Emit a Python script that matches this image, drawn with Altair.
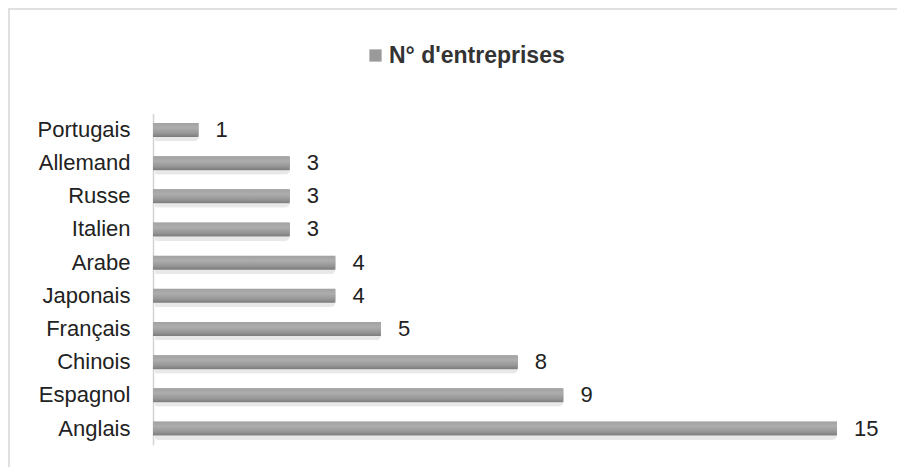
import altair as alt
import pandas as pd

languages = ["Portugais", "Allemand", "Russe", "Italien", "Arabe",
             "Japonais", "Français", "Chinois", "Espagnol", "Anglais"]
companies = [1, 3, 3, 3, 4, 4, 5, 8, 9, 15]
series_name = "N° d'entreprises"

df = pd.DataFrame({"langue": languages, "n": companies, "serie": series_name})

W, H = 889, 459
FONT = "Liberation Sans"
TXT = "#222222"

x_enc = alt.X("n:Q", scale=alt.Scale(domain=[0, 15], range=[145, 829]), axis=None)
y_enc = alt.Y(
    "langue:N",
    sort=languages,
    scale=alt.Scale(range=[105.4, 437.1], paddingInner=0, paddingOuter=0),
    axis=alt.Axis(
        title=None, offset=-145, ticks=False, labelPadding=23,
        domainColor="#d4d4d4", domainWidth=1.5,
        labelFont=FONT, labelFontSize=22, labelColor=TXT,
    ),
)

base = alt.Chart(df)

shadow = base.mark_bar(color="#000000", opacity=0.09, size=17, yOffset=3, xOffset=2,
                       cornerRadius=5).encode(x=x_enc, y=y_enc)

legend_bars = base.mark_bar(size=14).encode(
    x=x_enc, y=y_enc,
    color=alt.Color(
        "serie:N",
        scale=alt.Scale(range=["#9a9a9a"]),
        legend=alt.Legend(
            title=None, orient="none", legendX=356, legendY=36, padding=0,
            symbolType="square", symbolSize=150, symbolStrokeWidth=0,
            labelFont=FONT, labelFontSize=23, labelFontWeight="bold",
            labelColor="#333333", labelOffset=2, labelLimit=400,
        ),
    ),
)

grad = alt.Gradient(
    gradient="linear",
    stops=[
        alt.GradientStop(color="#a2a2a2", offset=0),
        alt.GradientStop(color="#adadad", offset=0.35),
        alt.GradientStop(color="#959595", offset=0.75),
        alt.GradientStop(color="#7a7a7a", offset=1),
    ],
    x1=0, x2=0, y1=0, y2=1,
)

bars = base.mark_bar(size=14, color=grad, cornerRadiusEnd=2).encode(x=x_enc, y=y_enc)

labels = base.mark_text(align="left", baseline="middle", dx=17, fontSize=22,
                        font=FONT, color=TXT).encode(x=x_enc, y=y_enc, text="n:Q")

frame_top = alt.Chart(df).mark_rule(color="#e0e0e0", strokeWidth=2).encode(
    x=alt.value(0), x2=alt.value(W), y=alt.value(1)
)
frame_left = alt.Chart(df).mark_rule(color="#e0e0e0", strokeWidth=2).encode(
    x=alt.value(1), y=alt.value(0), y2=alt.value(H)
)

chart = (
    alt.layer(frame_top, frame_left, shadow, legend_bars, bars, labels)
    .properties(width=W, height=H, autosize=alt.AutoSizeParams(type="none"), padding=0)
    .configure_view(strokeWidth=0)
    .configure(background="white")
)

chart.save("out.html", embed_options={"renderer": "svg", "actions": False})
